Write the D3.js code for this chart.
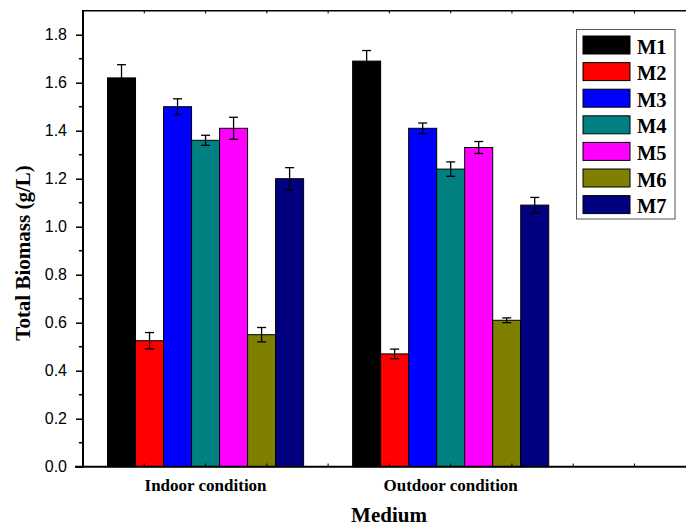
<html>
<head>
<script src="https://cdn.jsdelivr.net/npm/d3@7"></script>
<style>
  body { margin: 0; background: #fff; }
  .serif { font-family: 'Liberation Serif', 'Times New Roman', 'DejaVu Serif', serif; font-weight: bold; }
  .sans { font-family: 'Liberation Sans', Arial, 'DejaVu Sans', sans-serif; }
</style>
</head>
<body>
<svg width="686" height="526"></svg>
<script>
// dati
var conditions = ['Indoor condition', 'Outdoor condition']
var media = ['M1', 'M2', 'M3', 'M4', 'M5', 'M6', 'M7']
var colors = ['#000000', '#ff0000', '#0000ff', '#008080', '#ff00ff', '#808000', '#000080']
var indoor = [1.62, 0.525, 1.50, 1.36, 1.41, 0.55, 1.20]
var indoorErr = [0.055, 0.034, 0.033, 0.021, 0.046, 0.03, 0.046]
var outdoor = [1.69, 0.47, 1.41, 1.24, 1.33, 0.61, 1.09]
var outdoorErr = [0.044, 0.02, 0.022, 0.03, 0.025, 0.01, 0.032]
var yTicks = [0, 0.2, 0.4, 0.6, 0.8, 1.0, 1.2, 1.4, 1.6, 1.8]

var values = [indoor, outdoor]
var errors = [indoorErr, outdoorErr]

var svg = d3.select('svg')

var x = d3.scaleLinear().domain([0.5, 2.96]).range([83, 686])
var y = d3.scaleLinear().domain([0, 1.9]).range([466.7, 10.7])

var groupW = 0.8
var barW = groupW / media.length

// barre
var data = []
conditions.forEach(function(c, i){
    media.forEach(function(m, j){
        data.push({c: i, m: j, v: values[i][j], e: errors[i][j]})
    })
})

function barX(d){ return x(d.c + 1 - groupW / 2 + d.m * barW) }

svg.selectAll('rect.bar')
    .data(data)
    .enter()
    .append('rect')
    .attr('class', 'bar')
    .attr('x', barX)
    .attr('width', x(barW) - x(0))
    .attr('y', function(d){ return y(d.v) })
    .attr('height', function(d){ return y(0) - y(d.v) })
    .attr('fill', function(d){ return colors[d.m] })
    .attr('stroke', '#000')
    .attr('stroke-width', 1)

// barre di errore
var eb = svg.selectAll('g.err')
    .data(data)
    .enter()
    .append('g')
    .attr('transform', function(d){
        return 'translate(' + (barX(d) + (x(barW) - x(0)) / 2) + ',0)'
    })
    .attr('stroke', '#000')
    .attr('stroke-width', 1.3)

eb.append('line')
    .attr('y1', function(d){ return y(d.v - d.e) })
    .attr('y2', function(d){ return y(d.v + d.e) })
eb.append('line').attr('x1', -4.5).attr('x2', 4.5)
    .attr('y1', function(d){ return y(d.v + d.e) })
    .attr('y2', function(d){ return y(d.v + d.e) })
eb.append('line').attr('x1', -4.5).attr('x2', 4.5)
    .attr('y1', function(d){ return y(d.v - d.e) })
    .attr('y2', function(d){ return y(d.v - d.e) })

// asse y
var yAxis = svg.append('g')
    .attr('transform', 'translate(83,0)')
    .call(d3.axisLeft(y).tickValues(yTicks).tickFormat(d3.format('.1f')).tickSize(7).tickPadding(9))
yAxis.select('.domain').remove()
yAxis.attr('font-family', null).attr('font-size', null)
yAxis.selectAll('line').attr('stroke-width', 1.5)
yAxis.selectAll('text')
    .attr('class', 'sans')
    .style('font-size', '16px')
    .attr('fill', '#000')

// tacche minori
svg.selectAll('line.minor')
    .data(d3.range(0.1, 1.9, 0.2))
    .enter()
    .append('line')
    .attr('x1', 79).attr('x2', 83)
    .attr('y1', function(d){ return y(d) })
    .attr('y2', function(d){ return y(d) })
    .attr('stroke', '#000')
    .attr('stroke-width', 1.5)

// tacche x (interne)
var xt = d3.range(0.75, 2.96, 0.25)
svg.selectAll('line.xtb')
    .data(xt).enter().append('line')
    .attr('x1', function(d){ return x(d) }).attr('x2', function(d){ return x(d) })
    .attr('y1', 466.7).attr('y2', 463.5)
    .attr('stroke', '#000').attr('stroke-width', 1)
svg.selectAll('line.xtt')
    .data(xt).enter().append('line')
    .attr('x1', function(d){ return x(d) }).attr('x2', function(d){ return x(d) })
    .attr('y1', 10.7).attr('y2', 13.5)
    .attr('stroke', '#000').attr('stroke-width', 1)

// cornice
svg.append('line').attr('x1', 83).attr('x2', 686).attr('y1', 10.7).attr('y2', 10.7)
    .attr('stroke', '#000').attr('stroke-width', 1.5)
svg.append('line').attr('x1', 83).attr('x2', 83).attr('y1', 10).attr('y2', 467.7)
    .attr('stroke', '#000').attr('stroke-width', 2)
svg.append('line').attr('x1', 75).attr('x2', 686).attr('y1', 466.7).attr('y2', 466.7)
    .attr('stroke', '#000').attr('stroke-width', 2)

// etichette categorie
svg.selectAll('text.cat')
    .data(conditions)
    .enter()
    .append('text')
    .attr('class', 'serif')
    .attr('x', function(d, i){ return x(i + 1) })
    .attr('y', 491)
    .attr('text-anchor', 'middle')
    .style('font-size', '17px')
    .text(function(d){ return d })

svg.append('text')
    .attr('class', 'serif')
    .attr('x', 389).attr('y', 522)
    .attr('text-anchor', 'middle')
    .style('font-size', '21px')
    .text('Medium')

svg.append('text')
    .attr('class', 'serif')
    .attr('transform', 'translate(30,253) rotate(-90)')
    .attr('text-anchor', 'middle')
    .style('font-size', '21px')
    .text('Total Biomass (g/L)')

// legenda
var legend = svg.append('g')
legend.append('rect')
    .attr('x', 576.5).attr('y', 29.5).attr('width', 98.5).attr('height', 189.5)
    .attr('fill', '#fff').attr('stroke', '#555').attr('stroke-width', 1)

var items = legend.selectAll('g.item')
    .data(media)
    .enter()
    .append('g')
    .attr('transform', function(d, i){ return 'translate(583,' + (36 + i * 26.6) + ')' })

items.append('rect')
    .attr('width', 47).attr('height', 18)
    .attr('fill', function(d, i){ return colors[i] })
    .attr('stroke', '#000').attr('stroke-width', 1)

items.append('text')
    .attr('class', 'serif')
    .attr('x', 54).attr('y', 17.5)
    .style('font-size', '20.5px')
    .text(function(d){ return d })
</script>
</body>
</html>
